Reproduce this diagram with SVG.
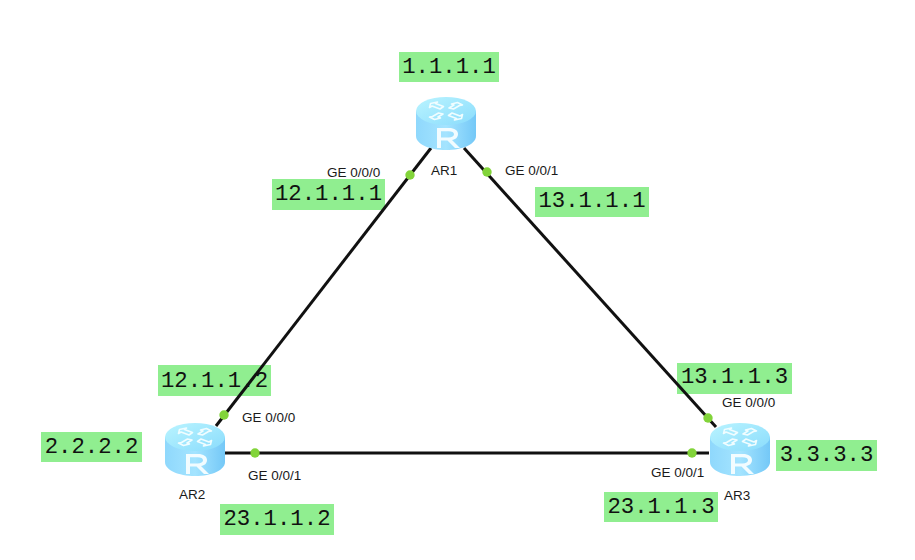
<svg xmlns="http://www.w3.org/2000/svg" width="915" height="560" viewBox="0 0 915 560">
<style>
.box{fill:#90ee90}
.ip{font-family:"Liberation Mono","DejaVu Sans Mono",monospace;font-size:22.300px;fill:#111;text-anchor:middle}
.lbl{font-family:"Liberation Sans",Arial,sans-serif;font-size:13.500px;fill:#1a1a1a}
.link{stroke:#111;stroke-width:3;fill:none}
.dot{fill:#82d43a}
.arrow{fill:none;stroke:#f0fdff;stroke-width:1.600;stroke-linejoin:round}
</style>
<defs>
<linearGradient id="body" x1="0" x2="1" y1="0" y2="0"><stop offset="0" stop-color="#8fd8fc"/><stop offset=".5" stop-color="#a4e4ff"/><stop offset="1" stop-color="#74c8f7"/></linearGradient>
<linearGradient id="top" x1="0" x2="1" y1="0" y2="1"><stop offset="0" stop-color="#baf4ff"/><stop offset="1" stop-color="#8adcfc"/></linearGradient>
<g id="router">
<path d="M0 14V39C0 47 13 53 30 53S60 47 60 39V14Z" fill="url(#body)"/>
<ellipse cx="30" cy="14" rx="30" ry="14" fill="url(#top)"/>
<path class="arrow" d="M24 12L16 9l-2.500 1.500 1-4 7-1.500-2 1.500 8 3ZM36 16l8 3 2.500-1.500-1 4-7 1.500 2-1.500-8-3ZM33 11l5-3-2.500-1 6-1.500 5 2.500-3 .5-6 3.500ZM27 17l-5 3 2.500 1-6 1.500-5-2.500 3-.5 6-3.500Z"/>
<path d="M21 51V31H33C38.500 31 42 33.500 42 37S39.500 42.500 36 43L44 51H39L31.500 43.500H25V51ZM25 34.200V40.500H32.500C36 40.500 38 39.200 38 37.300S36 34.200 32.500 34.200Z" fill="#f2fcff"/>
</g>
</defs>
<g id="ip-boxes">
<rect class="box" x="399" y="52" width="100" height="30"/>
<rect class="box" x="272" y="179" width="113" height="31"/>
<rect class="box" x="535" y="187" width="114" height="30"/>
<rect class="box" x="158" y="365" width="113" height="31"/>
<rect class="box" x="41" y="432" width="101" height="30"/>
<rect class="box" x="220" y="504" width="114" height="31"/>
<rect class="box" x="677" y="363" width="115" height="31"/>
<rect class="box" x="776" y="440" width="101" height="31"/>
<rect class="box" x="604" y="492" width="114" height="30"/>
</g>
<g id="connectors">
<line class="link" x1="431" y1="148" x2="216" y2="426"/>
<line class="link" x1="464" y1="148" x2="716" y2="427"/>
<line class="link" x1="225" y1="453" x2="709" y2="453"/>
<circle class="dot" cx="410" cy="175" r="4.700"/>
<circle class="dot" cx="487" cy="172" r="4.700"/>
<circle class="dot" cx="224" cy="415" r="4.700"/>
<circle class="dot" cx="255" cy="453" r="4.700"/>
<circle class="dot" cx="708" cy="418" r="4.700"/>
<circle class="dot" cx="692" cy="453" r="4.700"/>
</g>
<g id="ip-texts">
<text class="ip" x="449" y="72.500">1.1.1.1</text>
<text class="ip" x="328.500" y="200">12.1.1.1</text>
<text class="ip" x="592" y="207">13.1.1.1</text>
<text class="ip" x="214.500" y="387">12.1.1.2</text>
<text class="ip" x="91.500" y="453">2.2.2.2</text>
<text class="ip" x="277" y="525">23.1.1.2</text>
<text class="ip" x="734.500" y="383">13.1.1.3</text>
<text class="ip" x="826.500" y="461">3.3.3.3</text>
<text class="ip" x="661" y="513">23.1.1.3</text>
</g>
<g id="AR1"><use href="#router" x="416" y="97"/><text class="lbl" x="431" y="175">AR1</text></g>
<g id="AR2"><use href="#router" x="165" y="423"/><text class="lbl" x="179" y="499">AR2</text></g>
<g id="AR3"><use href="#router" x="710" y="423"/><text class="lbl" x="724" y="500">AR3</text></g>
<g id="ports">
<text class="lbl" x="327" y="177">GE 0/0/0</text>
<text class="lbl" x="505" y="175">GE 0/0/1</text>
<text class="lbl" x="242" y="422">GE 0/0/0</text>
<text class="lbl" x="248" y="480">GE 0/0/1</text>
<text class="lbl" x="722" y="407">GE 0/0/0</text>
<text class="lbl" x="651" y="477">GE 0/0/1</text>
</g>
</svg>
